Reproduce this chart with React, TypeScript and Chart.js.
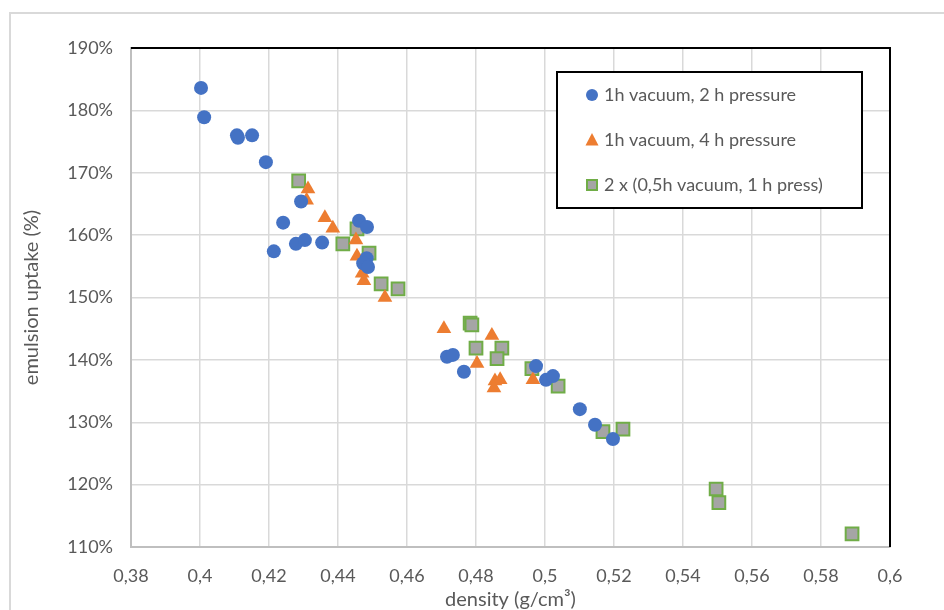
import React, { useEffect, useRef } from "react";
import { Chart, registerables } from "chart.js";

Chart.register(...registerables);

const seriesNames = [
  "1h vacuum, 2 h pressure",
  "1h vacuum, 4 h pressure",
  "2 x (0,5h vacuum, 1 h press)",
];

const series1X = [0.4003, 0.4012, 0.4107, 0.4110, 0.4151, 0.4191, 0.4293, 0.4241, 0.4214, 0.4278, 0.4304, 0.4354, 0.4461, 0.4484, 0.4483, 0.4473, 0.4487, 0.4716, 0.4733, 0.4765, 0.4974, 0.5003, 0.5023, 0.5101, 0.5145, 0.5197];
const series1Y = [183.6, 178.9, 176.0, 175.6, 176.0, 171.7, 165.4, 162.0, 157.4, 158.6, 159.2, 158.8, 162.3, 161.3, 156.3, 155.5, 154.9, 140.5, 140.8, 138.1, 139.0, 136.8, 137.4, 132.1, 129.6, 127.3];

const series2X = [0.4313, 0.4309, 0.4362, 0.4385, 0.4452, 0.4455, 0.4470, 0.4475, 0.4536, 0.4707, 0.4846, 0.4803, 0.4855, 0.4870, 0.4852, 0.4965];
const series2Y = [167.4, 165.6, 162.8, 161.1, 159.2, 156.6, 153.9, 152.7, 150.0, 145.0, 143.9, 139.4, 136.6, 136.8, 135.5, 136.8];

const series3X = [0.4286, 0.4455, 0.4414, 0.4490, 0.4525, 0.4574, 0.4783, 0.4788, 0.4800, 0.4875, 0.4861, 0.4962, 0.5038, 0.5168, 0.5226, 0.5496, 0.5504, 0.5890];
const series3Y = [168.7, 161.0, 158.6, 157.1, 152.2, 151.4, 145.9, 145.6, 141.9, 141.9, 140.2, 138.6, 135.8, 128.5, 128.9, 119.3, 117.1, 112.1];

const xMin = 0.38;
const xMax = 0.6;
const xStep = 0.02;
const yMin = 110;
const yMax = 190;
const yStep = 10;

const FONT = "Lato, 'Open Sans', sans-serif";
const TEXT = "#595959";

const toPts = (xs: number[], ys: number[]) => xs.map((x, i) => ({ x, y: ys[i] }));

const framePlugin = {
  id: "frame",
  beforeDraw(chart: any) {
    const ctx = chart.ctx;
    ctx.save();
    ctx.fillStyle = "#ffffff";
    ctx.fillRect(0, 0, chart.width, chart.height);
    ctx.strokeStyle = "#d9d9d9";
    ctx.lineWidth = 2;
    ctx.strokeRect(10, 13, chart.width + 20, chart.height + 20);
    ctx.restore();
  },
  afterDatasetsDraw(chart: any) {
    const { ctx, chartArea } = chart;
    ctx.save();
    ctx.strokeStyle = "#000000";
    ctx.lineWidth = 2;
    ctx.beginPath();
    ctx.moveTo(chartArea.left, chartArea.top);
    ctx.lineTo(chartArea.right, chartArea.top);
    ctx.lineTo(chartArea.right, chartArea.bottom);
    ctx.stroke();
    ctx.restore();
  },
};

const legendPlugin = {
  id: "boxLegend",
  afterDraw(chart: any) {
    const ctx = chart.ctx;
    ctx.save();
    ctx.fillStyle = "#ffffff";
    ctx.fillRect(557, 72, 305, 136);
    ctx.strokeStyle = "#000000";
    ctx.lineWidth = 2;
    ctx.strokeRect(557, 72, 305, 136);
    const mx = 592;
    const ys = [95, 140, 185];
    ctx.fillStyle = "#4472C4";
    ctx.beginPath();
    ctx.arc(mx, ys[0], 6, 0, Math.PI * 2);
    ctx.fill();
    ctx.fillStyle = "#ED7D31";
    ctx.beginPath();
    ctx.moveTo(mx, ys[1] - 7);
    ctx.lineTo(mx + 6.5, ys[1] + 5.5);
    ctx.lineTo(mx - 6.5, ys[1] + 5.5);
    ctx.closePath();
    ctx.fill();
    ctx.fillStyle = "#A5A5A5";
    ctx.strokeStyle = "#70AD47";
    ctx.lineWidth = 2;
    ctx.fillRect(mx - 5, ys[2] - 5, 10, 10);
    ctx.strokeRect(mx - 5, ys[2] - 5, 10, 10);
    ctx.fillStyle = TEXT;
    ctx.font = `18px ${FONT}`;
    ctx.textBaseline = "middle";
    ctx.textAlign = "left";
    seriesNames.forEach((n, i) => ctx.fillText(n, 604, ys[i]));
    ctx.restore();
  },
};

export default function App() {
  const ref = useRef<HTMLCanvasElement | null>(null);
  useEffect(() => {
    if (!ref.current) return;
    const chart = new Chart(ref.current, {
      type: "scatter",
      data: {
        datasets: [
          {
            label: seriesNames[0],
            data: toPts(series1X, series1Y),
            pointStyle: "circle",
            pointRadius: 7,
            backgroundColor: "#4472C4",
            borderColor: "#4472C4",
            borderWidth: 0,
          },
          {
            label: seriesNames[1],
            data: toPts(series2X, series2Y),
            pointStyle: "triangle",
            pointRadius: 8.5,
            backgroundColor: "#ED7D31",
            borderColor: "#ED7D31",
            borderWidth: 0,
          },
          {
            label: seriesNames[2],
            data: toPts(series3X, series3Y),
            pointStyle: "rect",
            pointRadius: 9,
            backgroundColor: "#A5A5A5",
            borderColor: "#70AD47",
            borderWidth: 2,
          },
        ],
      },
      options: {
        responsive: false,
        animation: false,
        layout: { padding: { top: 48, right: 54, left: 0, bottom: 0 } },
        plugins: {
          legend: { display: false },
          tooltip: { enabled: false },
        },
        scales: {
          x: {
            type: "linear",
            min: xMin,
            max: xMax,
            afterFit: (s: any) => {
              s.height = 63;
            },
            ticks: {
              stepSize: xStep,
              color: TEXT,
              font: { family: FONT, size: 18, lineHeight: 1.2 },
              padding: 18,
              callback: (v: any) => String(Math.round(Number(v) * 100) / 100).replace(".", ","),
            },
            grid: { color: "#d9d9d9", lineWidth: 1.5, drawTicks: false },
            border: { color: "#bfbfbf", width: 2 },
            title: {
              display: true,
              text: "density (g/cm³)",
              color: TEXT,
              font: { family: FONT, size: 20, lineHeight: 1.0 },
              padding: { top: 0, bottom: 0 },
            },
          },
          y: {
            type: "linear",
            min: yMin,
            max: yMax,
            afterFit: (s: any) => {
              s.width = 131;
            },
            ticks: {
              stepSize: yStep,
              color: TEXT,
              font: { family: FONT, size: 18 },
              padding: 18,
              callback: (v: any) => `${v}%`,
            },
            grid: { color: "#d9d9d9", lineWidth: 1.5, drawTicks: false },
            border: { color: "#bfbfbf", width: 2 },
            title: {
              display: true,
              text: "emulsion uptake (%)",
              color: TEXT,
              font: { family: FONT, size: 20, lineHeight: 1.0 },
              padding: { top: 22, bottom: 0 },
            },
          },
        },
      },
      plugins: [framePlugin, legendPlugin],
    });
    return () => chart.destroy();
  }, []);
  return (
    <div style={{ position: "absolute", left: 0, top: 0, width: 944, height: 610 }}>
      <canvas ref={ref} width={944} height={610} style={{ display: "block" }} />
    </div>
  );
}
